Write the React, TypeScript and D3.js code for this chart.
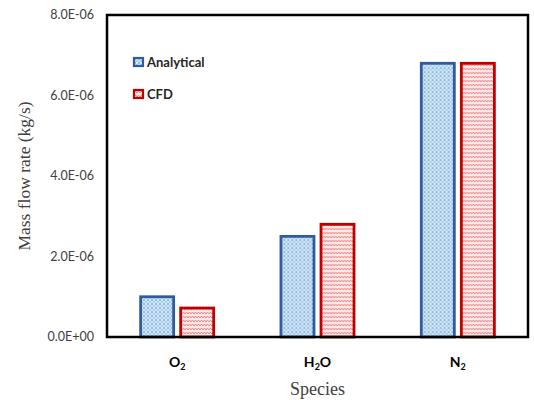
import React from 'react';
import * as d3 from 'd3';

const categories = ['O2', 'H2O', 'N2'];
const series = ['Analytical', 'CFD'];
const analyticalValues = [1.0e-6, 2.5e-6, 6.8e-6];
const cfdValues = [0.72e-6, 2.8e-6, 6.8e-6];
const yTicks = [0, 2e-6, 4e-6, 6e-6, 8e-6];

const W = 534;
const H = 400;
const margin = { top: 15, right: 6, bottom: 63, left: 107 };

const strokeColors: Record<string, string> = { Analytical: '#2F5C9E', CFD: '#C00000' };
const fills: Record<string, string> = { Analytical: 'url(#dots)', CFD: 'url(#zigzag)' };

const fmt = (v: number) => v.toExponential(1).toUpperCase().replace(/E([+-])(\d)$/, 'E$10$2');

// species label with subscript digit
const Species = ({ name }: { name: string }) => {
  const parts = name.match(/[A-Z][a-z]?|\d+/g) || [];
  return (
    <>
      {parts.map((p, i) =>
        /\d/.test(p) ? (
          <tspan key={i} fontSize={9} dy={3}>{p}</tspan>
        ) : (
          <tspan key={i} dy={i > 0 && /\d/.test(parts[i - 1]) ? -3 : 0}>{p}</tspan>
        )
      )}
    </>
  );
};

export default function App() {
  const width = W - margin.left - margin.right;
  const height = H - margin.top - margin.bottom;

  const x0 = d3.scaleBand<string>().domain(categories).range([0, width]).padding(0);
  const x1 = d3.scaleBand<string>().domain(series).range([0, x0.bandwidth()])
    .paddingInner(0.175).paddingOuter(0.84);
  const y = d3.scaleLinear().domain([0, 8e-6]).range([height, 0]);

  const data = categories.map((c, i) => ({ c, values: [analyticalValues[i], cfdValues[i]] }));

  return (
    <svg width={W} height={H} style={{ position: 'absolute', left: 0, top: 0, background: '#fff' }}>
      <defs>
        <pattern id="dots" width="4" height="4" patternUnits="userSpaceOnUse">
          <rect width="4" height="4" fill="#CFE4F6" />
          <circle cx="1" cy="1" r="0.75" fill="#3A7FC4" />
          <circle cx="3" cy="3" r="0.65" fill="#6AA5DB" />
          <rect x="2.4" y="0.4" width="1" height="0.8" fill="#ffffff" />
        </pattern>
        <pattern id="zigzag" width="6" height="4" patternUnits="userSpaceOnUse">
          <rect width="6" height="4" fill="#FCE6E6" />
          <path d="M0,3 L1.5,1 L3,3 L4.5,1 L6,3" fill="none" stroke="#E77F7F" strokeWidth="0.9" />
        </pattern>
      </defs>
      <g transform={`translate(${margin.left},${margin.top})`}>
        {data.map(d => (
          <g key={d.c} transform={`translate(${x0(d.c)},0)`}>
            {series.map((s, j) => (
              <rect
                key={s}
                x={x1(s)}
                y={y(d.values[j])}
                width={x1.bandwidth()}
                height={height - y(d.values[j])}
                fill={fills[s]}
                stroke={strokeColors[s]}
                strokeWidth={2.8}
              />
            ))}
          </g>
        ))}
        <rect x={0} y={0} width={width} height={height} fill="none" stroke="#000" strokeWidth={2.5} />
        {yTicks.map(t => (
          <text key={t} x={-13} y={y(t)} dy="0.35em" textAnchor="end"
            fontFamily="Lato, sans-serif" fontSize={12.5} fill="#404040">{fmt(t)}</text>
        ))}
        {categories.map(c => (
          <text key={c} x={(x0(c) as number) + x0.bandwidth() / 2} y={height + 30}
            textAnchor="middle" fontFamily="Lato, sans-serif" fontWeight="bold" fontSize={14} fill="#000">
            <Species name={c} />
          </text>
        ))}
        <text x={width / 2} y={height + 58} textAnchor="middle" fontFamily="'Liberation Serif', 'Times New Roman', serif"
          fontSize={18} fill="#404040">Species</text>
        <text transform={`translate(${-77},${height / 2}) rotate(-90)`} textAnchor="middle"
          fontFamily="'Liberation Serif', 'Times New Roman', serif" fontSize={17.5} fill="#404040">
          Mass flow rate (kg/s)
        </text>
        {series.map((s, i) => (
          <g key={s} transform={`translate(${27},${43 + i * 32})`}>
            <rect x={0} y={0} width={9} height={8} fill={fills[s]} stroke={strokeColors[s]} strokeWidth={2.2} />
            <text x={13} y={4} dy="0.35em" fontFamily="Lato, sans-serif" fontWeight="bold" fontSize={13} fill="#262626">{s}</text>
          </g>
        ))}
      </g>
    </svg>
  );
}
